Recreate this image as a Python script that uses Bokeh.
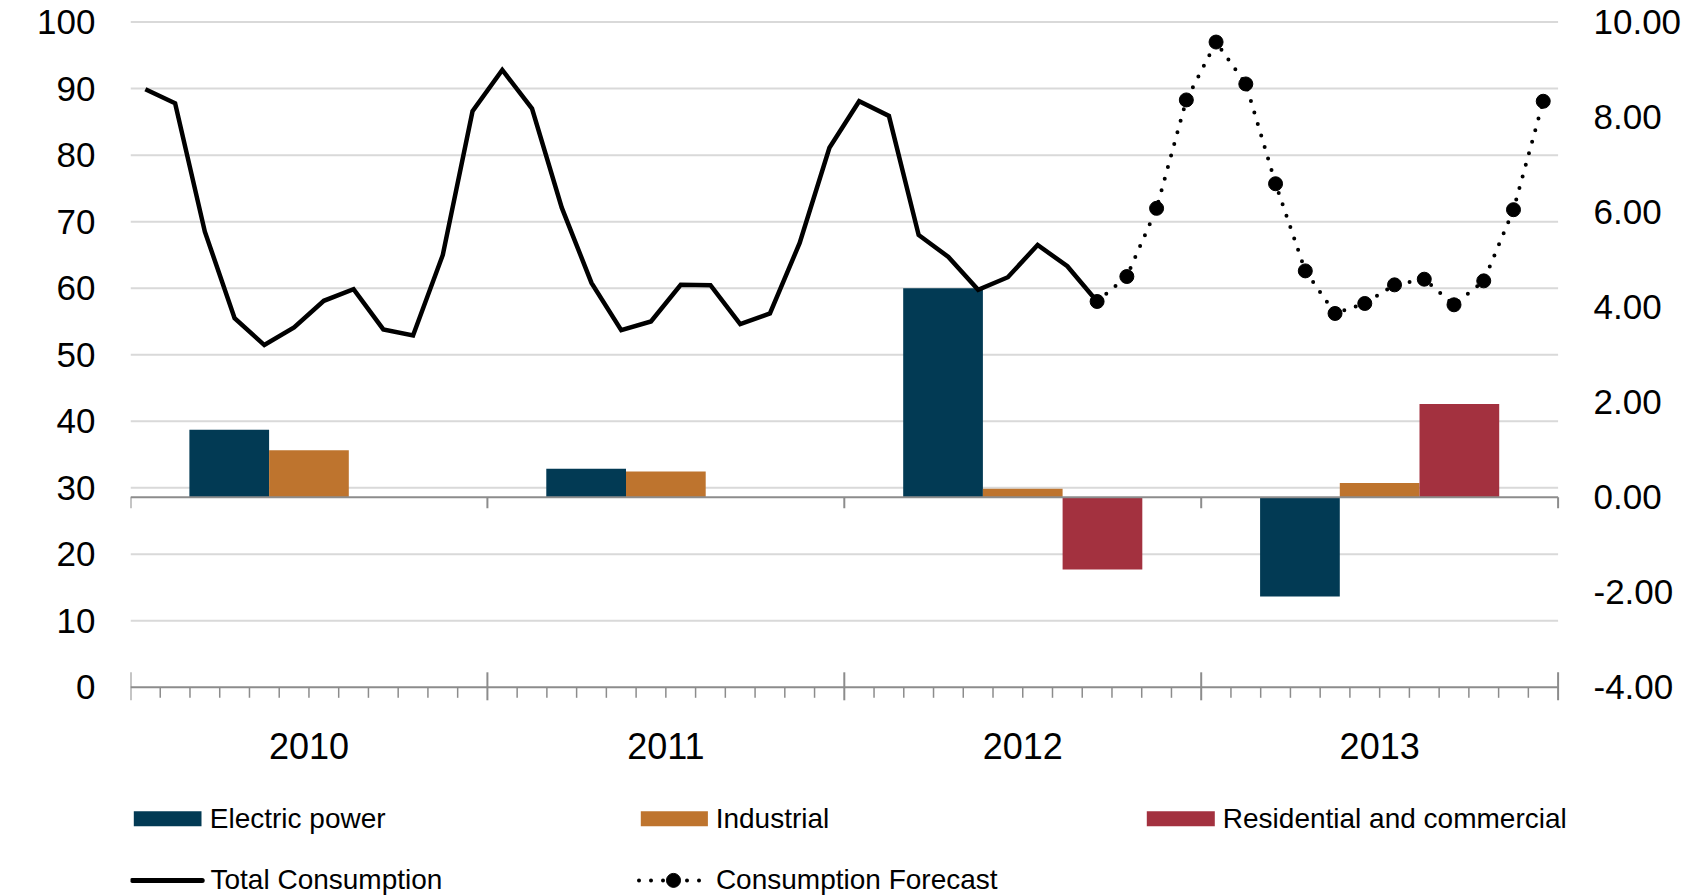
from bokeh.plotting import figure
from bokeh.models import Range1d, FixedTicker, PrintfTickFormatter, LinearAxis
from bokeh.core.properties import value
from bokeh.embed import file_html
from bokeh.resources import INLINE

# ---------------- data ----------------
years = ["2010", "2011", "2012", "2013"]
total_consumption = [89.9, 87.8, 68.5, 55.5, 51.45, 54.1, 58.1, 59.85, 53.8, 52.9, 65.0, 86.6,
                     92.8, 87.0, 72.1, 60.8, 53.7, 55.0, 60.5, 60.45, 54.6, 56.2, 66.8, 81.1,
                     88.1, 85.9, 68.0, 64.7, 59.75, 61.65, 66.5, 63.3, 58.0]
consumption_forecast = [58.0, 61.75, 72.0, 88.3, 97.0, 90.7, 75.7, 62.6, 56.2, 57.7, 60.5, 61.35,
                        57.5, 61.1, 71.8, 88.1]
forecast_start_month = 32  # Sep 2012
electric_power = [1.42, 0.60, 4.40, -2.09]
industrial = [0.99, 0.54, 0.18, 0.30]
residential = [0.0, 0.0, -1.52, 1.96]
left_ticks = [0, 10, 20, 30, 40, 50, 60, 70, 80, 90, 100]
right_ticks = [-4, -2, 0, 2, 4, 6, 8, 10]
legend_labels = ["Electric power", "Industrial", "Residential and commercial",
                 "Total Consumption", "Consumption Forecast"]

# ---------------- style / layout (page pixels) ----------------
FONT_NAME = "Liberation Sans"
FONT = value(FONT_NAME)
C_ELEC = "#023a54"
C_IND = "#be742e"
C_RES = "#a3313f"
AXIS = "#8c8c8c"
GRID = "#d9d9d9"

W, H = 1696, 896
FL, FR = 130, 1575           # frame edges
PLOT_R = 1557.6              # right end of the month axis
Y100, Y0 = 21.6, 686.8       # pixel rows of 100 and 0 on the left scale
ppu = (Y0 - Y100) / 100.0
n_months = 12 * len(years)
ppm = (PLOT_R - FL) / n_months
x_end = n_months + (FR - PLOT_R) / ppm
y_start = -(H - Y0) / ppu
y_end = Y0 / ppu


def left_to_right(v):
    return -4 + v * 14.0 / 100.0


def left_to_px(v):
    return Y0 - v * ppu


p = figure(width=W, height=H, x_range=Range1d(0, x_end), y_range=Range1d(y_start, y_end),
           output_backend="svg", toolbar_location=None, x_axis_location=None,
           min_border_left=FL, min_border_right=W - FR, min_border_top=0, min_border_bottom=0)
p.extra_y_ranges = {"right": Range1d(left_to_right(y_start), left_to_right(y_end)),
                    "py": Range1d(H, 0)}
p.extra_x_ranges = {"px": Range1d(FL, FR)}
p.outline_line_color = None
p.background_fill_color = "white"
p.border_fill_color = "white"
p.xgrid.grid_line_color = None
p.ygrid.grid_line_color = None


def style_axis(ax, standoff):
    ax.axis_line_color = None
    ax.major_tick_line_color = None
    ax.minor_tick_line_color = None
    ax.major_tick_out = 0
    ax.major_tick_in = 0
    ax.major_label_standoff = standoff
    ax.major_label_text_font = FONT_NAME
    ax.major_label_text_font_size = "35px"
    ax.major_label_text_color = "black"


ya = p.yaxis[0]
ya.ticker = FixedTicker(ticks=left_ticks)
style_axis(ya, 35)

ra = LinearAxis(y_range_name="right", ticker=FixedTicker(ticks=right_ticks),
                formatter=PrintfTickFormatter(format="%.2f"))
style_axis(ra, 18)
p.add_layout(ra, "right")

# horizontal gridlines across the month axis
g = left_ticks[1:]
p.segment(x0=[0] * len(g), y0=g, x1=[n_months] * len(g), y1=g, line_color=GRID, line_width=2)

# bars
bw = 2.68
centers = [12 * i + 6 for i in range(len(years))]
p.vbar(x=[c - bw for c in centers], top=electric_power, bottom=0, width=bw,
       y_range_name="right", fill_color=C_ELEC, line_color=None)
p.vbar(x=centers, top=industrial, bottom=0, width=bw,
       y_range_name="right", fill_color=C_IND, line_color=None)
p.vbar(x=[c + bw for c in centers], top=residential, bottom=0, width=bw,
       y_range_name="right", fill_color=C_RES, line_color=None)

# secondary zero axis (bars)
zero_px = left_to_px(4 / 0.14)
bounds = [12 * i for i in range(len(years) + 1)]
p.segment(x0=[0], y0=[0], x1=[n_months], y1=[0], y_range_name="right",
          line_color=AXIS, line_width=2)
p.segment(x0=bounds, y0=[zero_px] * len(bounds), x1=bounds, y1=[zero_px + 11] * len(bounds),
          y_range_name="py", line_color=AXIS, line_width=2)

# bottom date axis
p.segment(x0=[0], y0=[0], x1=[n_months], y1=[0], line_color=AXIS, line_width=2)
p.segment(x0=bounds, y0=[Y0 - 15] * len(bounds), x1=bounds, y1=[Y0 + 13] * len(bounds),
          y_range_name="py", line_color=AXIS, line_width=2)
minor = [m for m in range(1, n_months) if m % 12 != 0]
p.segment(x0=minor, y0=[Y0] * len(minor), x1=minor, y1=[Y0 + 10.5] * len(minor),
          y_range_name="py", line_color=AXIS, line_width=1.5)

# year labels
p.text(x=centers, y=[745.0] * len(years), text=years, y_range_name="py",
       text_font=FONT, text_font_size="36px", text_align="center",
       text_baseline="alphabetic", text_color="black")

# lines
x_total = [i + 0.5 for i in range(len(total_consumption))]
x_fc = [forecast_start_month + i + 0.5 for i in range(len(consumption_forecast))]
p.line(x_total, total_consumption, line_color="black", line_width=4.5, line_join="miter")
p.line(x_fc, consumption_forecast, line_color="black", line_width=4, line_dash="0 12",
       line_cap="round")
p.scatter(x_fc, consumption_forecast, marker="circle", size=14, fill_color="black",
          line_color="black")

# ---------------- legend (page pixel positions) ----------------
r1c, r2c = 818.2, 879.9
r1t, r2t = 817.5, 879.0
p.quad(left=[133.3, 640.3, 1146.3], right=[201.0, 707.4, 1214.3],
       top=[r1c - 7.5] * 3, bottom=[r1c + 7.5] * 3,
       x_range_name="px", y_range_name="py",
       fill_color=[C_ELEC, C_IND, C_RES], line_color=None)
p.text(x=[209.3, 715.2, 1222.3], y=[r1t] * 3, text=legend_labels[:3],
       x_range_name="px", y_range_name="py",
       text_font=FONT, text_font_size="28px", text_baseline="alphabetic",
       text_align="left", text_color="black")
p.line([131.7, 201.7], [r2c, r2c], x_range_name="px", y_range_name="py",
       line_color="black", line_width=5, line_cap="round")
p.line([638.5, 705.0], [r2c, r2c], x_range_name="px", y_range_name="py",
       line_color="black", line_width=4, line_dash="0 12", line_cap="round")
p.scatter([673.0], [r2c], x_range_name="px", y_range_name="py",
          marker="circle", size=14, fill_color="black", line_color="black")
p.text(x=[210.0, 715.4], y=[r2t] * 2, text=legend_labels[3:],
       x_range_name="px", y_range_name="py",
       text_font=FONT, text_font_size="28px", text_baseline="alphabetic",
       text_align="left", text_color="black")

open("out.html", "w").write(file_html(p, INLINE))
